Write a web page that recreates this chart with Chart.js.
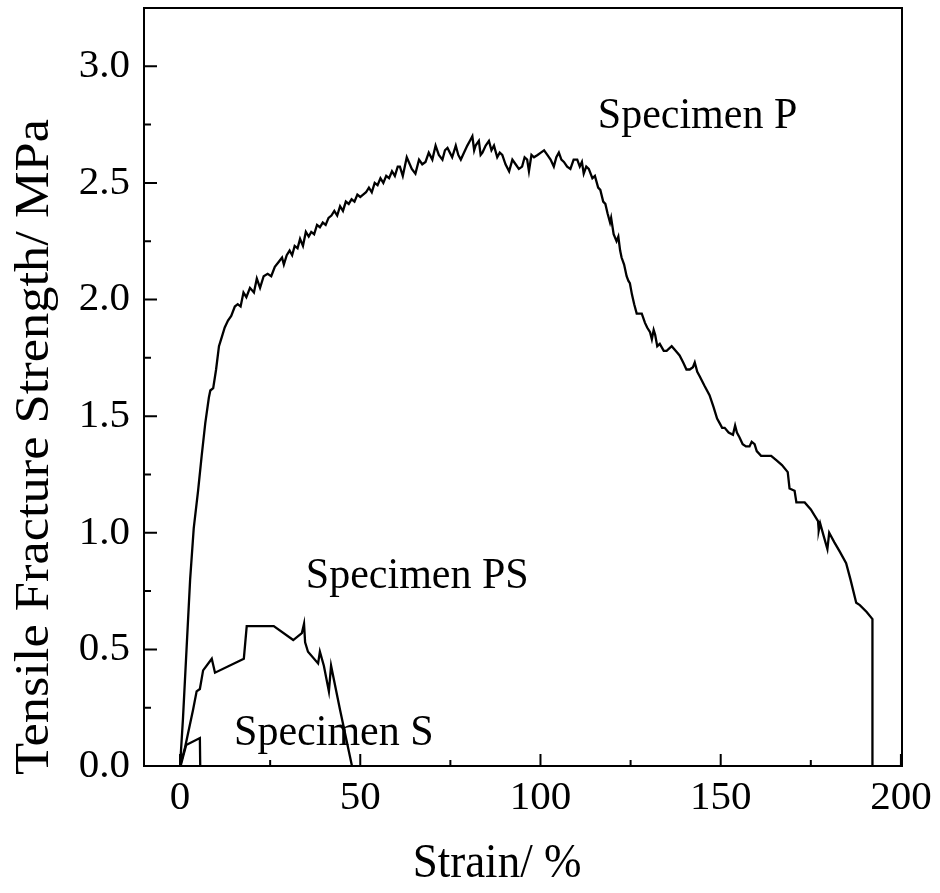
<!DOCTYPE html>
<html lang="en">
<head>
  <meta charset="UTF-8">
  <title>Tensile Fracture Strength vs Strain</title>
  <script src="https://cdn.jsdelivr.net/npm/chart.js"></script>
  <style>
    body { margin: 0; background: #fff; }
    #wrap { width: 940px; height: 893px; position: relative; }
  </style>
</head>
<body>

<div id="wrap"><canvas id="strainChart"></canvas></div>

<script>
// Specimen P
const pStrain = [0, 0.8, 1.8, 2.8, 3.8, 5, 6, 7, 8, 8.4, 9.2, 10, 10.8, 11.6, 12.4, 13.3, 14.2, 15.2, 16, 16.8,
  17.6, 18.4, 19.4, 20.5, 21.3, 22.2, 23.2, 24.3, 25.3, 26.3, 27.3, 28.3, 28.8, 29.6, 30.4, 31.1, 31.8, 32.6, 33.3, 34.1,
  34.9, 35.7, 36.4, 37.2, 38.0, 38.8, 39.6, 40.4, 41.2, 42.0, 42.8, 43.6, 44.4, 45.2, 46.0, 46.8, 47.6, 48.4, 49.2, 50.0,
  50.8, 51.6, 52.4, 53.2, 54.0, 54.8, 55.6, 56.4, 57.2, 58.0, 58.8, 59.6, 60.4, 61.0, 61.8, 62.9, 64.3, 65.3, 66.3, 67.2,
  68.1, 69.0, 70.0, 70.9, 71.8, 72.8, 73.5, 74.2, 75.5, 76.5, 77.2, 77.9, 78.8, 79.7, 80.4, 81.1, 81.6, 82.0, 82.9, 83.4,
  83.9, 84.8, 85.7, 86.4, 87.1, 88.0, 88.7, 89.4, 90.3, 91.3, 92.2, 93.1, 94.0, 94.9, 95.6, 96.3, 96.8, 97.5, 98.2, 99.2,
  100.1, 101.0, 101.9, 102.8, 103.7, 104.4, 105.1, 105.8, 106.5, 107.4, 108.3, 109.2, 110.2, 110.9, 111.5, 112.0, 112.7, 113.4, 114.4, 115.1,
  116.0, 116.6, 117.4, 118.0, 118.6, 119.3, 119.6, 120.3, 121.1, 121.6, 122.1, 122.5, 123.2, 123.9, 124.4, 124.8, 125.4, 126.0, 126.7, 128.1,
  129.0, 129.6, 130.4, 130.9, 131.4, 131.8, 132.4, 133.1, 134.2, 135.0, 136.4, 137.5, 138.6, 139.6, 140.5, 141.4, 142.3, 142.8, 143.5, 144.2,
  145.5, 146.9, 148.0, 149.0, 149.7, 150.4, 151.1, 152.2, 153.4, 154.0, 154.5, 155.2, 156.1, 157.0, 158.0, 158.6, 159.4, 160.0, 161.2, 162.5,
  164.0, 165.5, 167.0, 168.6, 169.1, 170.5, 171.0, 173.3, 175.0, 177.0, 177.2, 177.6, 178.5, 179.6, 180.1, 181.5, 183.0, 184.8, 186.0, 187.6,
  188.6, 190.5, 192.1, 192.1];
const pStress = [0, 0.2, 0.5, 0.8, 1.02, 1.18, 1.33, 1.47, 1.58, 1.61, 1.62, 1.70, 1.80, 1.84, 1.88, 1.91, 1.93, 1.97, 1.98, 1.97,
  2.03, 2.01, 2.05, 2.03, 2.09, 2.05, 2.10, 2.11, 2.10, 2.14, 2.16, 2.18, 2.15, 2.19, 2.21, 2.19, 2.23, 2.22, 2.26, 2.23,
  2.29, 2.27, 2.29, 2.28, 2.32, 2.31, 2.33, 2.32, 2.35, 2.36, 2.38, 2.36, 2.40, 2.38, 2.42, 2.41, 2.43, 2.42, 2.45, 2.44,
  2.45, 2.46, 2.48, 2.46, 2.50, 2.49, 2.52, 2.50, 2.53, 2.52, 2.55, 2.53, 2.57, 2.57, 2.53, 2.61, 2.56, 2.54, 2.60, 2.58,
  2.59, 2.63, 2.60, 2.66, 2.62, 2.60, 2.64, 2.65, 2.61, 2.66, 2.62, 2.60, 2.63, 2.66, 2.68, 2.70, 2.64, 2.66, 2.68, 2.62,
  2.63, 2.66, 2.68, 2.64, 2.66, 2.61, 2.63, 2.62, 2.58, 2.55, 2.60, 2.58, 2.56, 2.57, 2.61, 2.60, 2.55, 2.62, 2.61, 2.62,
  2.63, 2.64, 2.62, 2.60, 2.57, 2.61, 2.63, 2.60, 2.59, 2.57, 2.56, 2.60, 2.60, 2.57, 2.59, 2.54, 2.57, 2.56, 2.52, 2.53,
  2.48, 2.47, 2.42, 2.41, 2.37, 2.33, 2.35, 2.28, 2.25, 2.27, 2.21, 2.18, 2.15, 2.10, 2.08, 2.07, 2.02, 1.98, 1.94, 1.94,
  1.90, 1.88, 1.86, 1.83, 1.87, 1.85, 1.80, 1.81, 1.78, 1.78, 1.80, 1.78, 1.76, 1.73, 1.70, 1.70, 1.71, 1.73, 1.69, 1.67,
  1.63, 1.59, 1.54, 1.49, 1.47, 1.45, 1.45, 1.43, 1.42, 1.46, 1.43, 1.41, 1.38, 1.37, 1.37, 1.39, 1.38, 1.35, 1.33, 1.33,
  1.33, 1.31, 1.29, 1.26, 1.19, 1.18, 1.13, 1.13, 1.10, 1.05, 1.01, 1.04, 0.99, 0.93, 1.00, 0.96, 0.92, 0.87, 0.80, 0.70,
  0.69, 0.66, 0.63, 0];

// Specimen PS
const psStrain = [0, 1.4, 3.6, 4.6, 5.5, 6.4, 8.8, 9.7, 17.7, 18.5, 26, 31.4, 33.8, 34.4, 34.7, 35.5, 38.3, 38.8, 39.9, 41.3, 41.9, 44.4, 47.7, 47.7];
const psStress = [0, 0.08, 0.24, 0.32, 0.33, 0.41, 0.46, 0.40, 0.46, 0.60, 0.60, 0.54, 0.57, 0.61, 0.53, 0.49, 0.44, 0.49, 0.43, 0.32, 0.43, 0.24, 0, 0];

// Specimen S
const sStrain = [0, 0.3, 0.5, 1.7, 5.5, 5.6];
const sStress = [0, 0.05, 0.02, 0.09, 0.12, 0];

const xTicks = [0, 50, 100, 150, 200];
const xMinor = [25, 75, 125, 175];
const yTicks = [0, 0.5, 1.0, 1.5, 2.0, 2.5, 3.0];
const yMinor = [0.25, 0.75, 1.25, 1.75, 2.25, 2.75];

const xTitle = "Strain/ %";
const yTitle = "Tensile Fracture Strength/ MPa";

// text labels placed in data units (left edge, baseline)
const notes = [
  { text: "Specimen P",  x: 115.9, y: 2.735 },
  { text: "Specimen PS", x: 34.9,  y: 0.763 },
  { text: "Specimen S",  x: 15.0,  y: 0.09 }
];

const serif = '"Liberation Serif", "Times New Roman", serif';

function pts(xs, ys) {
  return xs.map((x, i) => ({ x: x, y: ys[i] }));
}

// the source figure is a bit taller than wide, so text gets a slight vertical stretch
function stretchedText(ctx, text, x, y, rot, sx, sy) {
  ctx.save();
  ctx.translate(x, y);
  ctx.rotate(rot);
  ctx.scale(sx, sy);
  ctx.fillText(text, 0, 0);
  ctx.restore();
}

// box around the plot, inward ticks, axis titles and the labels
const frame = {
  id: "frame",
  afterDraw(chart) {
    const ctx = chart.ctx;
    const a = chart.chartArea;
    const xs = chart.scales.x, ys = chart.scales.y;
    ctx.save();
    ctx.strokeStyle = "#000";
    ctx.lineWidth = 2;
    ctx.strokeRect(a.left, a.top, a.right - a.left, a.bottom - a.top);
    ctx.beginPath();
    xTicks.forEach(v => { const px = xs.getPixelForValue(v); ctx.moveTo(px, a.bottom); ctx.lineTo(px, a.bottom - 12); });
    xMinor.forEach(v => { const px = xs.getPixelForValue(v); ctx.moveTo(px, a.bottom); ctx.lineTo(px, a.bottom - 6); });
    yTicks.forEach(v => { const py = ys.getPixelForValue(v); ctx.moveTo(a.left, py); ctx.lineTo(a.left + 13, py); });
    yMinor.forEach(v => { const py = ys.getPixelForValue(v); ctx.moveTo(a.left, py); ctx.lineTo(a.left + 7, py); });
    ctx.stroke();

    ctx.fillStyle = "#000";
    ctx.textAlign = "left";
    ctx.textBaseline = "alphabetic";
    ctx.font = "42px " + serif;
    notes.forEach(n => stretchedText(ctx, n.text, xs.getPixelForValue(n.x), ys.getPixelForValue(n.y), 0, 1, 1.07));

    ctx.textAlign = "center";
    ctx.textBaseline = "middle";
    ctx.font = "45px " + serif;
    stretchedText(ctx, xTitle, 497, 864, 0, 1, 1.07);
    ctx.font = "49px " + serif;
    stretchedText(ctx, yTitle, 35, 447, -Math.PI / 2, 1.07, 1);
    ctx.restore();
  }
};

const line = { showLine: true, borderColor: "#000", borderWidth: 2.3, pointRadius: 0, tension: 0, fill: false };

new Chart(document.getElementById("strainChart"), {
  type: "scatter",
  data: {
    datasets: [
      Object.assign({ label: "Specimen P", data: pts(pStrain, pStress) }, line),
      Object.assign({ label: "Specimen PS", data: pts(psStrain, psStress) }, line),
      Object.assign({ label: "Specimen S", data: pts(sStrain, sStress) }, line)
    ]
  },
  options: {
    responsive: true,
    maintainAspectRatio: false,
    animation: false,
    layout: { padding: { top: 8, right: 38, left: 0, bottom: 0 } },
    plugins: { legend: { display: false }, tooltip: { enabled: false } },
    scales: {
      x: {
        type: "linear",
        min: -10,
        max: 200.3,
        grid: { display: false, drawTicks: false },
        border: { display: false },
        afterBuildTicks: s => { s.ticks = xTicks.map(v => ({ value: v })); },
        afterFit: s => { s.height = 127; s.paddingLeft = 0; s.paddingRight = 0; },
        ticks: { color: "#000", padding: 8, maxRotation: 0, font: { family: serif, size: 41 } }
      },
      y: {
        min: 0,
        max: 3.25,
        grid: { display: false, drawTicks: false },
        border: { display: false },
        afterBuildTicks: s => { s.ticks = yTicks.map(v => ({ value: v })); },
        afterFit: s => { s.width = 144; s.paddingTop = 0; s.paddingBottom = 0; },
        ticks: { color: "#000", padding: 14, font: { family: serif, size: 41 }, callback: v => v.toFixed(1) }
      }
    }
  },
  plugins: [frame]
});
</script>

</body>
</html>
